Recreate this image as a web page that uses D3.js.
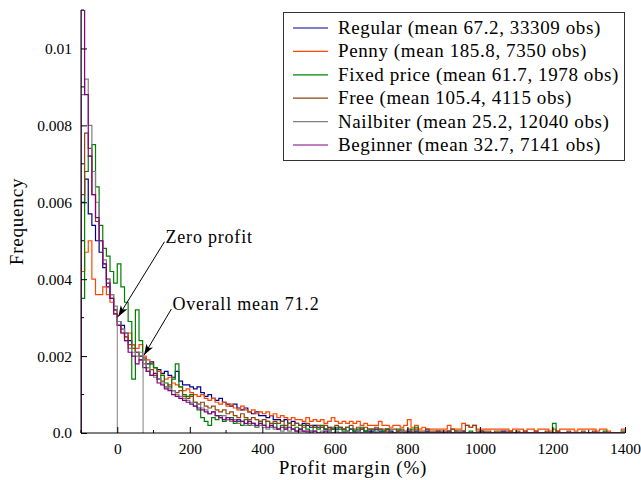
<!DOCTYPE html>
<html>
<head>
<meta charset="utf-8">
<script src="https://cdn.jsdelivr.net/npm/d3@7"></script>
<style>
  body { margin: 0; background: white; }
  text { font-family: "Liberation Serif", "DejaVu Serif", serif; fill: #000; }
</style>
</head>
<body>
<svg id="chart" width="641" height="480"></svg>
<script>
// histogram densities, bins of 10% from -100 to 1400, values in units of 1e-4
const UNIT = 1e-4;
const binStart = -100, binWidth = 10;

const seriesNames = ["Regular", "Penny", "Fixed price", "Free", "Nailbiter", "Beginner"];
const seriesMeans = [67.2, 185.8, 61.7, 105.4, 25.2, 32.7];
const seriesObs = [33309, 7350, 1978, 4115, 12040, 7141];
const seriesColors = ["#00008b", "#ff4500", "#008000", "#8b4513", "#808080", "#800080"];

const regular = [
  60, 66, 57, 54, 50, 47, 43, 38, 35, 32,
  29, 28, 26, 24, 23, 21, 20, 19.5, 18, 18.5,
  17, 16.5, 15.5, 16, 15, 14.5, 16, 13.5, 12.5, 12.5,
  12, 11.5, 12, 10.5, 9.5, 10, 9, 8.5, 9, 8,
  7.5, 7, 7.5, 6.5, 6, 6.5, 5.5, 5, 5.5, 4.5,
  4.5, 4, 4.5, 3.5, 3.5, 3, 3.5, 2.5, 3, 2.5,
  2, 2.5, 2, 1.5, 2, 1.5, 1.5, 1, 1.5, 1,
  1, 1.5, 1, 0.5, 1, 0.5, 0.5, 1, 0.5, 0.5,
  0.5, 1, 0.5, 0.5, 1, 0.5, 0, 0.5, 0.5, 0,
  0.5, 0, 0.5, 0, 0, 0.5, 0, 0, 0.5, 0,
  0, 0.5, 0, 0, 0, 0.5, 0, 0, 0, 0,
  0.5, 0, 0, 0, 0, 0, 0.5, 0, 0, 0,
  0, 0, 0, 0, 0, 0, 0, 0, 0, 0,
  0, 0, 0, 0, 0, 0, 0, 0, 0, 0,
  0, 0, 0, 0, 0, 0, 0, 0, 0, 0
];

const penny = [
  42, 47, 50, 40, 36, 36, 38, 36, 34, 31,
  28, 26, 25, 26, 23, 22, 23, 20, 19, 18,
  17, 16, 15, 14, 14.5, 13, 12.5, 12, 11, 11.5,
  10.5, 10, 9.5, 10, 9, 8.5, 9, 8, 7.5, 8,
  7, 7.5, 6.5, 6, 7, 6, 5.5, 6, 5, 5.5,
  5, 5.5, 4.5, 5, 4, 4.5, 4, 3.5, 4, 3.5,
  3.5, 3, 4, 3, 3.5, 3, 3.5, 2.5, 3, 4,
  3, 2.5, 3, 2.5, 3, 2.5, 3, 2, 2.5, 2,
  2, 2, 3, 2, 2, 1.5, 2, 2, 1.5, 2,
  3.5, 1.5, 2, 1, 1.5, 1, 1, 1, 1, 1,
  1, 2, 1, 1, 1, 2.5, 2, 1.5, 2, 1,
  1, 1, 1, 1, 1, 1, 1, 1, 0.5, 1,
  1, 1, 0.5, 1, 1, 0.5, 1, 1, 1, 0.5,
  1, 0.5, 1, 1, 1, 1, 0.5, 1, 1, 1,
  1, 1, 0.5, 1, 1, 0.5, 0, 0, 0, 1
];

const fixedPrice = [
  35, 68, 72, 75, 64, 54, 48, 46, 42, 39,
  44, 38, 34, 29, 14, 32, 24, 19, 17, 18,
  17, 14, 15, 13, 12, 14, 18, 12, 10, 9.5,
  10, 8, 6, 4, 3, 2, 4, 3.5, 4.5, 3,
  3.5, 4, 2.5, 3, 2, 3.5, 2, 2.5, 1.5, 3,
  2, 3, 1.5, 2.5, 1, 2, 1.5, 2.5, 1, 1.5,
  1, 2, 1, 0.5, 1.5, 1, 2, 1, 0.5, 1,
  1.5, 1, 0.5, 1.5, 1, 0.5, 1, 1.5, 0.5, 1,
  1, 0, 1, 0.5, 1, 0, 0, 1, 0, 0,
  0, 1, 1.5, 0, 0, 0, 0, 0, 0, 0,
  0, 0, 0, 0.5, 0, 0, 0, 0.5, 0, 0,
  0, 0, 0, 0, 0, 0, 0, 0, 0, 0,
  0, 0, 0, 0, 0, 0, 0, 0, 0, 0,
  2.5, 0, 0, 0, 0, 0, 0, 0, 0, 0,
  0, 0, 0, 0, 0.5, 0, 0, 0, 0, 0
];

const free = [
  62, 78, 74, 62, 55, 50, 44, 40, 36, 32,
  28, 27, 25, 23, 22, 21, 19, 18, 16, 16.5,
  15, 14, 13.5, 12, 12.5, 11, 10.5, 11, 9.5, 9,
  9.5, 8, 7.5, 8, 7, 6.5, 7, 6, 5.5, 6,
  5, 5.5, 4.5, 4, 5, 4, 3.5, 4, 3.5, 3,
  3.5, 3, 2.5, 3, 2.5, 3, 2, 2.5, 2, 2.5,
  2, 1.5, 2.5, 2, 1.5, 2, 1.5, 2, 1, 1.5,
  2, 1.5, 1, 1.5, 2, 1, 1.5, 1, 1.5, 1,
  1, 1.5, 1, 1, 0.5, 1, 1, 0.5, 1, 0.5,
  1, 0.5, 1, 0.5, 0.5, 1, 0.5, 0.5, 0.5, 0.5,
  0.5, 0.5, 1, 0.5, 0.5, 0.5, 2, 1.5, 2, 0.5,
  0.5, 0.5, 0.5, 0, 0.5, 0.5, 0, 0.5, 0.5, 0,
  0.5, 0, 0.5, 0, 0, 0.5, 0, 0, 0.5, 0,
  0, 0.5, 0, 0, 0.5, 0, 0, 0, 0.5, 0,
  0, 0.5, 0, 0, 0, 0, 0, 0, 0, 0.5
];

const nailbiter = [
  88, 92, 80, 68, 60, 50, 45, 40, 36, 33,
  29, 27, 24, 22, 21, 20, 21, 19, 17, 15,
  14.5, 14, 13, 12, 11.5, 11, 10, 9.5, 9, 8.5,
  8, 7, 7.5, 6.5, 6, 5, 5.5, 4.5, 4, 4.5,
  3.5, 3, 3.5, 2.5, 3, 2, 2.5, 2, 1.5, 2,
  1.5, 1, 1.5, 1, 1, 0.5, 1, 0.5, 1, 0.5,
  0.5, 0.5, 0, 0.5, 0.5, 0, 0.5, 0, 0.5, 0,
  0.5, 0, 0, 0.5, 0, 0, 0.5, 0, 0, 0,
  0, 0.5, 0, 0, 0, 0, 0, 0, 0.5, 0,
  0, 0, 0, 0, 0, 0, 0, 0, 0, 0,
  0, 0, 0, 0, 0.5, 0, 0, 0, 0, 0,
  0, 0, 0, 0, 0, 0, 0, 0, 0, 0,
  0, 0, 0, 0, 0, 0, 0, 0, 0, 0,
  0, 0, 0, 0, 0, 0, 0, 0, 0, 0,
  0, 0, 0, 0, 0, 0, 0, 0, 0, 0.5
];

const beginner = [
  110, 88, 72, 62, 56, 50, 44, 39, 35, 31,
  28, 26, 24, 21, 20, 18, 19, 17, 16, 15,
  15.5, 13, 12.5, 11.5, 11, 10, 9.5, 9, 8.5, 8,
  7.5, 7, 6.5, 6, 5.5, 5, 5.5, 4.5, 4, 3.5,
  4, 3.5, 3, 3.5, 3, 2.5, 3, 2.5, 2, 2.5,
  2, 1.5, 2, 1.5, 1, 1.5, 1, 1.5, 1, 0.5,
  1, 0.5, 0.5, 0, 0.5, 0, 0, 0.5, 0, 0,
  0, 0, 0, 0, 0, 0, 0, 0, 0, 0,
  0, 0, 0, 0, 0, 0, 0, 0, 0, 0,
  0, 0, 0, 0, 0, 0, 0, 0, 0, 0,
  0, 0, 0, 0, 0, 0, 0, 0, 0, 0,
  0, 0, 0, 0, 0, 0, 0, 0, 0, 0,
  0, 0, 0, 0, 0, 0, 0, 0, 0, 0,
  0, 0, 0, 0, 0, 0, 0, 0, 0, 0,
  0, 0, 0, 0, 0, 0, 0, 0, 0, 0
];

const seriesValues = [regular, penny, fixedPrice, free, nailbiter, beginner];

const xTicks = [0, 200, 400, 600, 800, 1000, 1200, 1400];
const xMinorTicks = [-100, 100, 300, 500, 700, 900, 1100, 1300];
const yTicks = [0, 0.002, 0.004, 0.006, 0.008, 0.01];
const yTickLabels = ["0.0", "0.002", "0.004", "0.006", "0.008", "0.01"];
const yMinorTicks = [0.001, 0.003, 0.005, 0.007, 0.009, 0.011];

// annotations: [label, point x, point y, text x, text y]
const annotations = [
  ["Zero profit", 0, 0.003, 133, 0.00495],
  ["Overall mean 71.2", 71.2, 0.002, 152, 0.00320]
];

const svg = d3.select("#chart");
const x = d3.scaleLinear().domain([-100, 1400]).range([81, 625]);
const y = d3.scaleLinear().domain([0, 0.011]).range([433, 10]);

svg.append("defs").append("clipPath").attr("id", "clip")
  .append("rect")
  .attr("x", x(-100)).attr("y", y(0.011))
  .attr("width", x(1400) - x(-100)).attr("height", y(0) - y(0.011));

svg.select("defs").append("marker")
  .attr("id", "arrow")
  .attr("viewBox", "0 0 10 10")
  .attr("refX", 10).attr("refY", 5)
  .attr("markerWidth", 11).attr("markerHeight", 11)
  .attr("markerUnits", "userSpaceOnUse")
  .attr("orient", "auto")
  .append("path")
  .attr("d", "M0,1.5 L10,5 L0,8.5 L2.5,5 Z")
  .attr("fill", "#000");

// step histograms
const line = d3.line()
  .x(d => x(d[0]))
  .y(d => y(d[1]))
  .curve(d3.curveStepAfter);

const plot = svg.append("g").attr("clip-path", "url(#clip)");

seriesValues.forEach((vals, k) => {
  const pts = [[binStart, 0]];
  vals.forEach((v, i) => pts.push([binStart + i * binWidth, v * UNIT]));
  pts.push([binStart + vals.length * binWidth, vals[vals.length - 1] * UNIT]);
  plot.append("path")
    .datum(pts)
    .attr("fill", "none")
    .attr("stroke", seriesColors[k])
    .attr("stroke-width", 1.2)
    .attr("d", line);
});

// reference lines under the arrows
annotations.forEach(a => {
  svg.append("line")
    .attr("x1", x(a[1])).attr("x2", x(a[1]))
    .attr("y1", y(0)).attr("y2", y(a[2]))
    .attr("stroke", "#808080")
    .attr("stroke-width", 1);
  svg.append("line")
    .attr("x1", x(a[3]) - 1).attr("y1", y(a[4]) - 1)
    .attr("x2", x(a[1]) + 1).attr("y2", y(a[2]) - 1)
    .attr("stroke", "#000")
    .attr("stroke-width", 1)
    .attr("marker-end", "url(#arrow)");
  svg.append("text")
    .attr("x", x(a[3])).attr("y", y(a[4]))
    .attr("font-size", 18)
    .attr("letter-spacing", 0.8)
    .text(a[0]);
});

// axes
const xAxis = svg.append("g").attr("transform", `translate(0,${y(0)})`);
xAxis.call(d3.axisBottom(x).tickValues(xTicks).tickSize(-6).tickPadding(10).tickFormat(d3.format("d")));
xAxis.append("g").selectAll("line").data(xMinorTicks).join("line")
  .attr("x1", d => x(d)).attr("x2", d => x(d))
  .attr("y1", 0).attr("y2", -3)
  .attr("stroke", "#000");

const yAxis = svg.append("g").attr("transform", `translate(${x(-100)},0)`);
yAxis.call(d3.axisLeft(y).tickValues(yTicks).tickSize(-6).tickPadding(9)
  .tickFormat((d, i) => yTickLabels[i]));
yAxis.append("g").selectAll("line").data(yMinorTicks).join("line")
  .attr("x1", 0).attr("x2", 3)
  .attr("y1", d => y(d)).attr("y2", d => y(d))
  .attr("stroke", "#000");

svg.selectAll(".domain").attr("stroke", "#000").attr("d", null);
xAxis.select(".domain").attr("d", `M${x(-100)},0H${x(1400)}`);
yAxis.select(".domain").attr("d", `M0,${y(0)}V${y(0.011)}`);
svg.selectAll(".tick text")
  .attr("font-family", "Liberation Serif, serif")
  .attr("font-size", 15.5)
  .attr("fill", "#000");
svg.selectAll(".tick line").attr("stroke", "#000");

svg.append("text")
  .attr("x", (x(-100) + x(1400)) / 2).attr("y", 474)
  .attr("text-anchor", "middle")
  .attr("font-size", 19)
  .attr("letter-spacing", 0.8)
  .text("Profit margin (%)");

svg.append("text")
  .attr("transform", `translate(23,${(y(0) + y(0.011)) / 2}) rotate(-90)`)
  .attr("text-anchor", "middle")
  .attr("font-size", 19)
  .attr("letter-spacing", 0.8)
  .text("Frequency");

// legend
const legend = svg.append("g");
legend.append("rect")
  .attr("x", 283.5).attr("y", 12.5)
  .attr("width", 341).attr("height", 148)
  .attr("fill", "white")
  .attr("stroke", "#333");

seriesNames.forEach((name, k) => {
  const ry = 28 + k * 23.4;
  legend.append("line")
    .attr("x1", 293).attr("x2", 328)
    .attr("y1", ry).attr("y2", ry)
    .attr("stroke", seriesColors[k])
    .attr("stroke-width", 1.2);
  legend.append("text")
    .attr("x", 338).attr("y", ry + 6)
    .attr("font-size", 19)
    .attr("letter-spacing", 0.6)
    .text(`${name} (mean ${seriesMeans[k]}, ${seriesObs[k]} obs)`);
});
</script>
</body>
</html>
